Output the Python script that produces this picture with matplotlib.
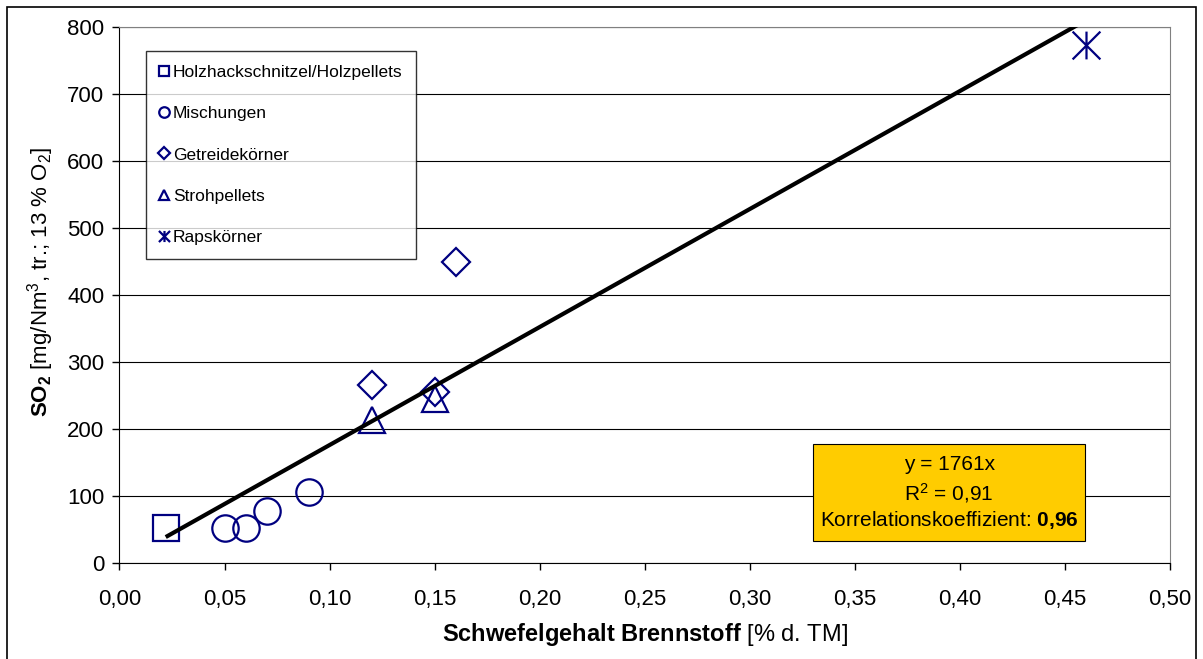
import matplotlib
matplotlib.use("Agg")
import matplotlib.pyplot as plt
import numpy as np
from matplotlib.path import Path
from matplotlib.patches import Rectangle

plt.rcParams['font.family'] = ['Liberation Sans', 'DejaVu Sans']
plt.rcParams['mathtext.fontset'] = 'custom'
plt.rcParams['mathtext.rm'] = 'Liberation Sans'
plt.rcParams['mathtext.it'] = 'Liberation Sans:italic'
plt.rcParams['mathtext.bf'] = 'Liberation Sans:bold'

# Sulphur content of fuel [% d. TM] vs. SO2 emission [mg/Nm3]
holz_x = [0.022]
holz_y = [52]
misch_x = [0.05, 0.06, 0.07, 0.09]
misch_y = [52, 52, 77, 106]
getreide_x = [0.12, 0.15, 0.16]
getreide_y = [265, 255, 450]
stroh_x = [0.12, 0.15]
stroh_y = [213, 245]
raps_x = [0.46]
raps_y = [773]

slope = 1761
r2_text = "0,91"
r_text = "0,96"

x_ticks = [0.0, 0.05, 0.1, 0.15, 0.2, 0.25, 0.3, 0.35, 0.4, 0.45, 0.5]
y_ticks = [0, 100, 200, 300, 400, 500, 600, 700, 800]

navy = '#000080'

fig = plt.figure(figsize=(12.03, 6.59), dpi=100)
ax = fig.add_axes([119.5/1203, 96/659, 1050.5/1203, 536/659])

star = Path([(0, -1), (0, 1), (-1, -1), (1, 1), (-1, 1), (1, -1)],
            [Path.MOVETO, Path.LINETO, Path.MOVETO, Path.LINETO, Path.MOVETO, Path.LINETO])

mk = dict(linestyle='none', markerfacecolor='none', markeredgecolor=navy, markeredgewidth=1.6)
ax.plot(holz_x, holz_y, marker='s', markersize=19, label='Holzhackschnitzel/Holzpellets', **mk)
ax.plot(misch_x, misch_y, marker='o', markersize=19, label='Mischungen', **mk)
ax.plot(getreide_x, getreide_y, marker='D', markersize=14.5, label='Getreidekörner', **mk)
ax.plot(stroh_x, stroh_y, marker='^', markersize=19, label='Strohpellets', **mk)
ax.plot(raps_x, raps_y, marker=star, markersize=20, label='Rapskörner',
        linestyle='none', color=navy, markeredgewidth=1.6)

all_x = holz_x + misch_x + getreide_x + stroh_x + raps_x
fx = np.array([min(all_x), max(all_x)])
ax.plot(fx, slope * fx, color='black', linewidth=3, zorder=5, solid_capstyle='butt')

ax.set_xlim(0, 0.5)
ax.set_ylim(0, 800)
ax.set_xticks(x_ticks)
ax.set_xticklabels([f"{v:.2f}".replace('.', ',') for v in x_ticks])
ax.set_yticks(y_ticks)
ax.set_yticklabels([str(v) for v in y_ticks])
ax.tick_params(axis='both', labelsize=16, direction='out', length=5, width=1, color='black')
ax.tick_params(axis='x', pad=14)
ax.tick_params(axis='y', pad=6)
ax.yaxis.grid(True, color='black', linewidth=0.8)
ax.set_axisbelow(True)
for s in ['top', 'right']:
    ax.spines[s].set_color('#808080')
for s in ['left', 'bottom']:
    ax.spines[s].set_color('black')

ax.set_xlabel(r"$\mathbf{Schwefelgehalt\ Brennstoff}$ [% d. TM]", fontsize=17, labelpad=8)
ax.set_ylabel(r"$\mathbf{SO_2}$ [mg/Nm$^3$, tr.; 13 % O$_2$]", fontsize=16, labelpad=8)
ax.yaxis.label.set_y(0.524)

leg = ax.legend(loc='upper left', bbox_to_anchor=(0.0252, 0.955), borderaxespad=0,
                fontsize=12.5, markerscale=0.4, numpoints=1, handlelength=0.5,
                handletextpad=0.25, labelspacing=1.5, borderpad=0.8,
                fancybox=False, frameon=True, edgecolor='black')
leg.get_frame().set_linewidth(1.0)
leg.set_zorder(10)

# Regression box
ax.add_patch(Rectangle((0.660, 0.041), 0.259, 0.181, transform=ax.transAxes,
                       facecolor='#FFCC00', edgecolor='black', linewidth=0.8, zorder=8))
cx = 0.7897
ax.text(cx, 0.1847, f"y = {slope}x", transform=ax.transAxes, ha='center', va='center',
        fontsize=15, zorder=9)
ax.text(cx, 0.1306, r"R$^2$ = " + r2_text, transform=ax.transAxes, ha='center', va='center',
        fontsize=15, zorder=9)
ax.text(cx, 0.0802, r"Korrelationskoeffizient: $\mathbf{" + r_text.replace(',', '{,}') + "}$",
        transform=ax.transAxes, ha='center', va='center', fontsize=15, zorder=9)

# Outer chart frame
fig.add_artist(Rectangle((6.5/1203, -0.05), 1189/1203, 1 - 6.5/659 + 0.05,
                         transform=fig.transFigure, facecolor='none',
                         edgecolor='black', linewidth=1.2))

fig.savefig('out.png', dpi=100)
